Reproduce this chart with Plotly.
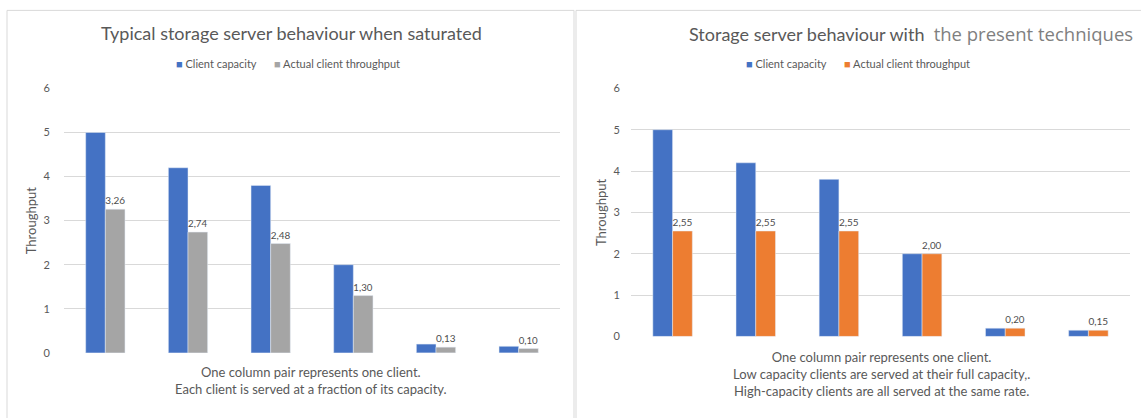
import plotly.graph_objects as go

# Six clients, one column pair each
clients = ["1", "2", "3", "4", "5", "6"]
capacity = [5.0, 4.2, 3.8, 2.0, 0.2, 0.15]
throughput_saturated = [3.26, 2.74, 2.48, 1.30, 0.13, 0.10]
throughput_present = [2.55, 2.55, 2.55, 2.00, 0.20, 0.15]
y_ticks = [0, 1, 2, 3, 4, 5, 6]

W, H = 1141, 418
BLUE = "#4472C4"
GREY = "#A5A5A5"
ORANGE = "#ED7D31"
TEXT = "#595959"
GRID = "#D9D9D9"
FONT = "Lato"


def px(x):
    return x / W


def py(y):
    return 1 - y / H


fig = go.Figure()

label_font = dict(family=FONT, size=11, color="#4D4D4D")

fig.add_trace(go.Bar(x=clients, y=capacity, marker_color=BLUE, name="Client capacity",
                     xaxis="x", yaxis="y", showlegend=False))
fig.add_trace(go.Bar(x=clients, y=throughput_saturated, marker_color=GREY,
                     name="Actual client throughput", xaxis="x", yaxis="y",
                     texttemplate="%{y:.2f}", textposition="outside",
                     textfont=label_font, cliponaxis=False, showlegend=False))
fig.add_trace(go.Bar(x=clients, y=capacity, marker_color=BLUE, name="Client capacity",
                     xaxis="x2", yaxis="y2", showlegend=False))
fig.add_trace(go.Bar(x=clients, y=throughput_present, marker_color=ORANGE,
                     name="Actual client throughput", xaxis="x2", yaxis="y2",
                     texttemplate="%{y:.2f}", textposition="outside",
                     textfont=label_font, cliponaxis=False, showlegend=False))

xax = dict(showticklabels=False, showgrid=False, zeroline=False, showline=False,
           ticks="", fixedrange=True)


def yax(standoff):
    return dict(range=[0, 6], tickvals=y_ticks, showgrid=True, gridcolor=GRID, gridwidth=1,
                zeroline=False, showline=False, ticks="", ticklabelstandoff=standoff,
                tickfont=dict(family=FONT, size=11, color=TEXT),
                title=dict(text="Throughput", standoff=4,
                           font=dict(family=FONT, size=13, color=TEXT)))


fig.update_layout(
    width=W, height=H,
    margin=dict(l=0, r=0, t=0, b=0),
    paper_bgcolor="white", plot_bgcolor="white",
    separators=",.",
    barmode="group", bargap=0.525, bargroupgap=0,
    xaxis=dict(xax, domain=[px(64), px(560)], anchor="y"),
    yaxis=dict(yax(13), domain=[py(357), py(84)], anchor="x"),
    xaxis2=dict(xax, domain=[px(631), px(1130)], anchor="y2"),
    yaxis2=dict(yax(10), domain=[py(340), py(84)], anchor="x2"),
)

# Panel frames (bottom and right edges run past the page)
for x0, x1 in [(7, 574), (576, 1150)]:
    fig.add_shape(type="rect", xref="paper", yref="paper",
                  x0=px(x0), x1=px(x1), y0=py(425), y1=py(3.5),
                  line=dict(color=GRID, width=1))


def note(text, x, y, size, xanchor="center", color=TEXT, family=FONT):
    fig.add_annotation(text=text, xref="paper", yref="paper", x=px(x), y=py(y),
                       xanchor=xanchor, yanchor="middle", showarrow=False,
                       font=dict(family=family, size=size, color=color))


def legend_item(x, y, color, label):
    note(f'<span style="color:{color};font-size:11px">■</span> {label}', x, y, 11,
         xanchor="left")


# Titles
note("Typical storage server behaviour when saturated", 291, 27, 18)
note('Storage server behaviour with\u00a0 '
     '<span style="font-family:Open Sans;color:#7F7F7F;font-size:18.5px">'
     'the present techniques</span>', 687, 27, 18, xanchor="left")

# Legends
legend_item(174, 58, BLUE, "Client capacity")
legend_item(272, 58, GREY, "Actual client throughput")
legend_item(744, 58, BLUE, "Client capacity")
legend_item(842, 58, ORANGE, "Actual client throughput")

# Captions under each chart
note("One column pair represents one client.<br>"
     "Each client is served at a fraction of its capacity.", 311, 386, 13)
note("One column pair represents one client.<br>"
     "Low capacity clients are served at their full capacity,.<br>"
     "High-capacity clients are all served at the same rate.", 881, 379, 13)

fig.write_html("out.html")
